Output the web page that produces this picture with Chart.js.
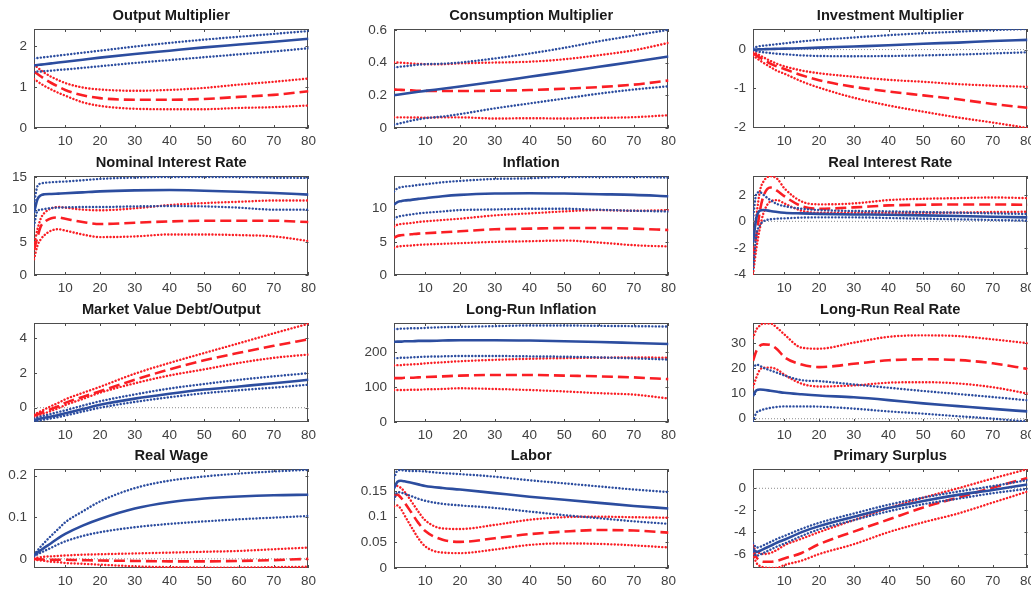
<!DOCTYPE html>
<html>
<head>
<meta charset="utf-8">
<script src="https://cdn.jsdelivr.net/npm/chart.js@4/dist/chart.umd.min.js"></script>
<style>
body { margin: 0; background: #fff; width: 1031px; height: 590px; overflow: hidden; position: relative; }
.panel { position: absolute; }
</style>
</head>
<body>
<script>
const xs = [1, 2, 3, 4, 6, 8, 10, 15, 20, 30, 40, 50, 60, 70, 80];
const xTicks = [10, 20, 30, 40, 50, 60, 70, 80];

const titles = ['Output Multiplier', 'Consumption Multiplier', 'Investment Multiplier',
    'Nominal Interest Rate', 'Inflation', 'Real Interest Rate',
    'Market Value Debt/Output', 'Long-Run Inflation', 'Long-Run Real Rate',
    'Real Wage', 'Labor', 'Primary Surplus'];

// blue: solid median + dotted bands
const blueMid = [
    [1.53, 1.54, 1.55, 1.56, 1.58, 1.60, 1.62, 1.67, 1.72, 1.81, 1.89, 1.97, 2.04, 2.11, 2.18],
    [0.200, 0.203, 0.206, 0.209, 0.215, 0.221, 0.227, 0.240, 0.254, 0.283, 0.313, 0.343, 0.374, 0.405, 0.437],
    [0.00, 0.003, 0.006, 0.009, 0.015, 0.020, 0.025, 0.035, 0.05, 0.08, 0.11, 0.15, 0.18, 0.22, 0.25],
    [9.5, 11.6, 12.2, 12.35, 12.4, 12.45, 12.5, 12.65, 12.8, 12.95, 13.0, 12.9, 12.75, 12.55, 12.3],
    [10.6, 11.0, 11.15, 11.25, 11.35, 11.5, 11.6, 11.9, 12.1, 12.3, 12.35, 12.3, 12.2, 12.1, 11.9],
    [-1.6, 0.3, 0.8, 0.85, 0.78, 0.7, 0.65, 0.6, 0.56, 0.52, 0.5, 0.45, 0.4, 0.35, 0.3],
    [-0.72, -0.67, -0.62, -0.58, -0.50, -0.42, -0.32, -0.08, 0.17, 0.52, 0.80, 1.04, 1.22, 1.40, 1.60],
    [228, 229, 229, 230, 230, 231, 231, 232, 233, 233, 232, 230, 228, 225, 222],
    [9.0, 11.3, 11.6, 11.5, 11.1, 10.7, 10.3, 9.7, 9.2, 8.5, 7.4, 6.1, 5.0, 3.9, 2.9],
    [0.008, 0.015, 0.021, 0.027, 0.038, 0.050, 0.060, 0.080, 0.096, 0.121, 0.136, 0.145, 0.150, 0.153, 0.154],
    [0.155, 0.168, 0.170, 0.169, 0.166, 0.163, 0.160, 0.156, 0.153, 0.146, 0.139, 0.133, 0.127, 0.121, 0.116],
    [-5.5, -5.8, -5.7, -5.55, -5.25, -4.95, -4.7, -4.0, -3.45, -2.6, -1.8, -1.15, -0.6, -0.15, 0.35]
];
const blueHi = [
    [1.70, 1.71, 1.72, 1.73, 1.75, 1.77, 1.79, 1.84, 1.89, 1.99, 2.08, 2.16, 2.23, 2.30, 2.37],
    [0.370, 0.372, 0.375, 0.377, 0.382, 0.387, 0.390, 0.393, 0.400, 0.425, 0.455, 0.490, 0.530, 0.565, 0.600],
    [0.05, 0.07, 0.09, 0.10, 0.12, 0.14, 0.16, 0.21, 0.25, 0.31, 0.37, 0.42, 0.46, 0.50, 0.53],
    [11.0, 13.6, 14.0, 14.1, 14.2, 14.25, 14.3, 14.5, 14.7, 14.9, 15.0, 15.0, 15.0, 14.9, 14.85],
    [12.6, 13.1, 13.25, 13.35, 13.45, 13.6, 13.7, 14.0, 14.2, 14.5, 14.6, 14.8, 14.8, 14.8, 14.7],
    [0.2, 2.1, 2.2, 2.0, 1.6, 1.3, 1.15, 0.95, 0.85, 0.78, 0.75, 0.7, 0.65, 0.6, 0.55],
    [-0.62, -0.56, -0.50, -0.45, -0.35, -0.25, -0.15, 0.12, 0.37, 0.76, 1.10, 1.36, 1.60, 1.80, 1.98],
    [265, 265, 266, 266, 267, 267, 268, 270, 271, 273, 275, 275, 274, 273, 272],
    [20, 21.5, 21, 20.2, 19.2, 18.2, 17.2, 15.3, 14.9, 13.6, 12.3, 11.0, 9.8, 8.6, 7.3],
    [0.010, 0.020, 0.030, 0.039, 0.056, 0.072, 0.088, 0.114, 0.138, 0.170, 0.188, 0.198, 0.205, 0.210, 0.214],
    [0.175, 0.190, 0.191, 0.190, 0.189, 0.189, 0.188, 0.185, 0.183, 0.178, 0.171, 0.165, 0.159, 0.153, 0.148],
    [-5.0, -5.4, -5.35, -5.2, -4.9, -4.6, -4.35, -3.7, -3.15, -2.3, -1.5, -0.85, -0.3, 0.2, 0.75]
];
const blueLo = [
    [1.37, 1.38, 1.38, 1.39, 1.40, 1.42, 1.43, 1.47, 1.51, 1.59, 1.66, 1.73, 1.80, 1.87, 1.95],
    [0.020, 0.025, 0.030, 0.035, 0.045, 0.053, 0.060, 0.070, 0.085, 0.120, 0.150, 0.180, 0.210, 0.235, 0.255],
    [-0.02, -0.04, -0.06, -0.07, -0.09, -0.11, -0.12, -0.15, -0.165, -0.17, -0.165, -0.15, -0.13, -0.10, -0.07],
    [7.5, 9.8, 10.0, 10.1, 10.25, 10.3, 10.35, 10.4, 10.4, 10.5, 10.55, 10.5, 10.3, 10.0, 10.0],
    [8.4, 8.8, 8.9, 9.0, 9.15, 9.3, 9.4, 9.6, 9.8, 9.9, 10.0, 10.0, 9.85, 9.7, 9.6],
    [-3.6, -1.0, -0.3, 0.0, 0.15, 0.2, 0.22, 0.28, 0.3, 0.3, 0.25, 0.2, 0.15, 0.1, 0.05],
    [-0.80, -0.76, -0.72, -0.68, -0.61, -0.54, -0.45, -0.22, 0.00, 0.33, 0.60, 0.83, 1.00, 1.15, 1.32],
    [182, 182, 183, 183, 184, 185, 186, 187, 188, 188, 187, 186, 184, 181, 178],
    [-1.1, 2.4, 3.2, 3.7, 4.3, 4.7, 4.9, 4.9, 4.8, 4.0, 2.9, 2.0, 1.0, 0.0, -1.1],
    [0.006, 0.011, 0.015, 0.019, 0.027, 0.035, 0.042, 0.055, 0.064, 0.076, 0.084, 0.090, 0.095, 0.099, 0.103],
    [0.133, 0.148, 0.147, 0.145, 0.140, 0.135, 0.131, 0.125, 0.122, 0.117, 0.110, 0.103, 0.097, 0.091, 0.086],
    [-5.8, -6.15, -6.05, -5.9, -5.6, -5.3, -5.05, -4.35, -3.75, -2.9, -2.1, -1.45, -0.95, -0.45, -0.05]
];

// red: dashed median + dotted bands
const redMid = [
    [1.38, 1.32, 1.26, 1.20, 1.10, 1.01, 0.93, 0.80, 0.73, 0.69, 0.69, 0.71, 0.76, 0.81, 0.90],
    [0.235, 0.234, 0.233, 0.232, 0.230, 0.228, 0.227, 0.226, 0.226, 0.228, 0.232, 0.240, 0.250, 0.265, 0.290],
    [-0.10, -0.15, -0.21, -0.26, -0.36, -0.44, -0.50, -0.66, -0.79, -0.96, -1.08, -1.18, -1.28, -1.40, -1.50],
    [3.8, 5.8, 7.5, 8.1, 8.7, 8.8, 8.6, 8.1, 7.8, 8.0, 8.2, 8.3, 8.3, 8.3, 8.1],
    [5.6, 5.9, 6.0, 6.05, 6.15, 6.25, 6.3, 6.45, 6.6, 6.9, 7.0, 7.1, 7.1, 7.0, 6.8],
    [-2.7, -1.0, 0.8, 1.9, 2.55, 2.3, 1.9, 1.15, 0.95, 1.05, 1.2, 1.25, 1.27, 1.27, 1.25],
    [-0.45, -0.38, -0.30, -0.22, -0.07, 0.08, 0.28, 0.62, 0.95, 1.60, 2.20, 2.72, 3.15, 3.55, 3.92],
    [125, 125, 125, 126, 126, 127, 128, 130, 132, 134, 134, 132, 130, 127, 122],
    [23, 27, 29, 29.5, 29.3, 27.5, 24.5, 21.5, 20.5, 21.8, 23.2, 23.6, 23.3, 22, 19.8],
    [0.000, -0.001, -0.001, -0.002, -0.002, -0.002, -0.002, -0.003, -0.004, -0.005, -0.006, -0.006, -0.005, -0.003, 0.000],
    [0.140, 0.143, 0.137, 0.128, 0.108, 0.088, 0.072, 0.055, 0.051, 0.058, 0.066, 0.071, 0.074, 0.073, 0.069],
    [-5.6, -6.3, -6.6, -6.7, -6.7, -6.6, -6.4, -5.9, -5.1, -3.95, -2.85, -1.75, -0.85, 0.05, 0.95]
];
const redHi = [
    [1.55, 1.48, 1.41, 1.35, 1.25, 1.17, 1.10, 0.99, 0.94, 0.91, 0.93, 0.98, 1.06, 1.13, 1.21],
    [0.400, 0.400, 0.399, 0.397, 0.394, 0.392, 0.390, 0.390, 0.395, 0.400, 0.405, 0.420, 0.445, 0.475, 0.520],
    [-0.05, -0.10, -0.15, -0.20, -0.29, -0.37, -0.43, -0.54, -0.61, -0.70, -0.78, -0.83, -0.89, -0.93, -0.96],
    [4.5, 7.0, 8.7, 9.5, 10.2, 10.4, 10.3, 10.0, 9.9, 10.2, 10.7, 11.0, 11.2, 11.4, 11.4],
    [7.3, 7.6, 7.7, 7.75, 7.85, 8.0, 8.1, 8.3, 8.5, 9.0, 9.3, 9.6, 9.8, 9.7, 9.8],
    [-1.3, 0.5, 2.3, 3.0, 3.4, 3.2, 2.5, 1.5, 1.28, 1.35, 1.6, 1.7, 1.75, 1.8, 1.75],
    [-0.40, -0.30, -0.20, -0.10, 0.10, 0.28, 0.48, 0.85, 1.20, 1.95, 2.57, 3.14, 3.70, 4.27, 4.82],
    [161, 162, 162, 163, 164, 165, 167, 170, 173, 177, 180, 182, 183, 184, 183],
    [32, 35.5, 37, 37.8, 37.8, 36, 33.5, 28.2, 27.8, 30.2, 32.5, 33.1, 32.8, 31.5, 30],
    [0.002, 0.003, 0.004, 0.005, 0.006, 0.007, 0.008, 0.010, 0.011, 0.013, 0.015, 0.017, 0.019, 0.023, 0.027],
    [0.158, 0.160, 0.156, 0.149, 0.130, 0.110, 0.093, 0.077, 0.076, 0.084, 0.094, 0.099, 0.100, 0.099, 0.098],
    [-5.2, -5.8, -5.9, -6.0, -5.9, -5.6, -5.2, -4.6, -4.0, -2.9, -1.8, -0.85, 0.0, 0.9, 1.75]
];
const redLo = [
    [1.20, 1.14, 1.08, 1.03, 0.94, 0.86, 0.79, 0.63, 0.54, 0.47, 0.46, 0.46, 0.49, 0.51, 0.55],
    [0.065, 0.065, 0.065, 0.065, 0.064, 0.064, 0.063, 0.065, 0.065, 0.058, 0.060, 0.058, 0.062, 0.066, 0.078],
    [-0.15, -0.22, -0.28, -0.34, -0.45, -0.55, -0.62, -0.82, -0.98, -1.24, -1.44, -1.60, -1.75, -1.88, -2.02],
    [2.4, 4.5, 5.5, 6.1, 6.8, 7.0, 6.8, 6.2, 5.8, 5.9, 6.2, 6.2, 6.1, 5.9, 5.2],
    [4.1, 4.3, 4.35, 4.4, 4.45, 4.55, 4.6, 4.7, 4.8, 5.0, 5.1, 5.2, 4.9, 4.5, 4.3],
    [-4.0, -2.0, -0.5, 0.6, 1.5, 1.6, 1.35, 0.8, 0.65, 0.65, 0.65, 0.65, 0.66, 0.7, 0.72],
    [-0.55, -0.47, -0.40, -0.33, -0.18, -0.03, 0.15, 0.50, 0.86, 1.40, 1.85, 2.20, 2.57, 2.86, 3.05],
    [91, 91, 91, 91, 92, 92, 93, 94, 96, 94, 91, 87, 82, 78, 67],
    [12.5, 16.5, 19.5, 20.2, 20.3, 19.5, 17.5, 13.9, 12.8, 13.2, 14.3, 14.5, 14.0, 12.5, 10.0],
    [-0.002, -0.003, -0.004, -0.005, -0.007, -0.008, -0.010, -0.012, -0.014, -0.018, -0.020, -0.021, -0.021, -0.020, -0.019],
    [0.120, 0.122, 0.115, 0.103, 0.080, 0.058, 0.042, 0.030, 0.029, 0.036, 0.045, 0.048, 0.047, 0.044, 0.040],
    [-6.0, -6.8, -7.1, -7.2, -7.27, -7.25, -7.0, -6.6, -6.0, -5.1, -4.0, -3.1, -2.3, -1.3, -0.3]
];

const yMin = [0, 0, -2.02, 0, 0, -4.05, -0.82, 0, -1.3, -0.022, 0, -7.27];
const yMax = [2.42, 0.605, 0.53, 15.15, 14.95, 3.42, 4.86, 282, 38, 0.216, 0.193, 1.76];
const yTicks = [[0, 1, 2], [0, 0.2, 0.4, 0.6], [-2, -1, 0], [0, 5, 10, 15], [0, 5, 10], [-4, -2, 0, 2],
    [0, 2, 4], [0, 100, 200], [0, 10, 20, 30], [0, 0.1, 0.2], [0, 0.05, 0.1, 0.15], [-6, -4, -2, 0]];
const zeroLine = [false, false, true, false, false, true, true, false, true, true, false, true];

// layout of the 4x3 grid (plot-area corners in page pixels)
const plotLefts = [34, 394, 753];
const plotTops = [29, 176, 323, 469];
const plotW = 275, plotH = 99;
const axisW = 40, titleH = 30, xAxisH = 24, padR = 12;

const BLUE = '#2c4d9f';
const RED = '#fa1e24';
const FONT = "'Liberation Sans', Arial, sans-serif";

// MATLAB-like box with inward ticks
const boxPlugin = {
    id: 'box',
    beforeDatasetsDraw(chart) {
        const { ctx, chartArea: a, scales } = chart;
        ctx.save();
        ctx.strokeStyle = '#4d4d4d';
        ctx.lineWidth = 1;
        ctx.beginPath();
        scales.x.ticks.forEach(t => {
            const px = Math.round(scales.x.getPixelForValue(t.value)) + 0.5;
            ctx.moveTo(px, a.bottom); ctx.lineTo(px, a.bottom - 3);
            ctx.moveTo(px, a.top); ctx.lineTo(px, a.top + 3);
        });
        scales.y.ticks.forEach(t => {
            const py = Math.round(scales.y.getPixelForValue(t.value)) + 0.5;
            ctx.moveTo(a.left, py); ctx.lineTo(a.left + 3, py);
            ctx.moveTo(a.right, py); ctx.lineTo(a.right - 3, py);
        });
        ctx.stroke();
        ctx.strokeRect(Math.round(a.left) + 0.5, Math.round(a.top) + 0.5,
            Math.round(a.width) - 1, Math.round(a.height) - 1);
        ctx.restore();
    }
};

function series(vals, color, kind) {
    const ds = {
        data: xs.map((x, i) => ({ x: x, y: vals[i] })),
        borderColor: color,
        pointRadius: 0,
        fill: false,
        cubicInterpolationMode: 'monotone',
        borderJoinStyle: 'round'
    };
    if (kind === 'solid') {
        ds.borderWidth = 2.6;
    } else if (kind === 'dash') {
        ds.borderWidth = 2.6;
        ds.borderDash = [11, 5];
    } else {
        ds.borderWidth = 2.4;
        ds.borderDash = [0.1, 3.3];
        ds.borderCapStyle = 'round';
    }
    return ds;
}

for (let p = 0; p < 12; p++) {
    const row = Math.floor(p / 3), col = p % 3;
    const div = document.createElement('div');
    div.className = 'panel';
    div.style.left = (plotLefts[col] - axisW) + 'px';
    div.style.top = (plotTops[row] - titleH) + 'px';
    const canvas = document.createElement('canvas');
    canvas.width = axisW + plotW + padR;
    canvas.height = titleH + plotH + xAxisH;
    div.appendChild(canvas);
    document.body.appendChild(div);

    const datasets = [
        series(blueMid[p], BLUE, 'solid'),
        series(blueHi[p], BLUE, 'dot'),
        series(blueLo[p], BLUE, 'dot'),
        series(redMid[p], RED, 'dash'),
        series(redHi[p], RED, 'dot'),
        series(redLo[p], RED, 'dot')
    ];
    if (zeroLine[p]) {
        datasets.push({
            data: [{ x: 1, y: 0 }, { x: 80, y: 0 }],
            borderColor: '#8c8c8c', borderWidth: 1, borderDash: [1, 2], pointRadius: 0
        });
    }

    new Chart(canvas.getContext('2d'), {
        type: 'line',
        data: { datasets: datasets },
        options: {
            responsive: false,
            animation: false,
            layout: { padding: { left: 0, right: padR, top: 0, bottom: 0 } },
            plugins: {
                legend: { display: false },
                tooltip: { enabled: false },
                title: {
                    display: true,
                    text: titles[p],
                    fullSize: false,
                    color: '#1a1a1a',
                    font: { family: FONT, size: 14.7, weight: 'bold', lineHeight: '18px' },
                    padding: { top: 8, bottom: 4 }
                }
            },
            scales: {
                x: {
                    type: 'linear',
                    min: 1,
                    max: 80,
                    afterBuildTicks: s => { s.ticks = xTicks.map(v => ({ value: v })); },
                    afterFit: s => { s.height = xAxisH; },
                    grid: { display: false, drawTicks: false },
                    border: { display: false },
                    ticks: { color: '#404040', font: { family: FONT, size: 13.5 }, padding: 5, maxRotation: 0, callback: v => String(v) }
                },
                y: {
                    type: 'linear',
                    min: yMin[p],
                    max: yMax[p],
                    afterBuildTicks: s => { s.ticks = yTicks[p].map(v => ({ value: v })); },
                    afterFit: s => { s.width = axisW; },
                    grid: { display: false, drawTicks: false },
                    border: { display: false },
                    ticks: { color: '#404040', font: { family: FONT, size: 13.5 }, padding: 7, callback: v => String(v) }
                }
            }
        },
        plugins: [boxPlugin]
    });
}
</script>
</body>
</html>
